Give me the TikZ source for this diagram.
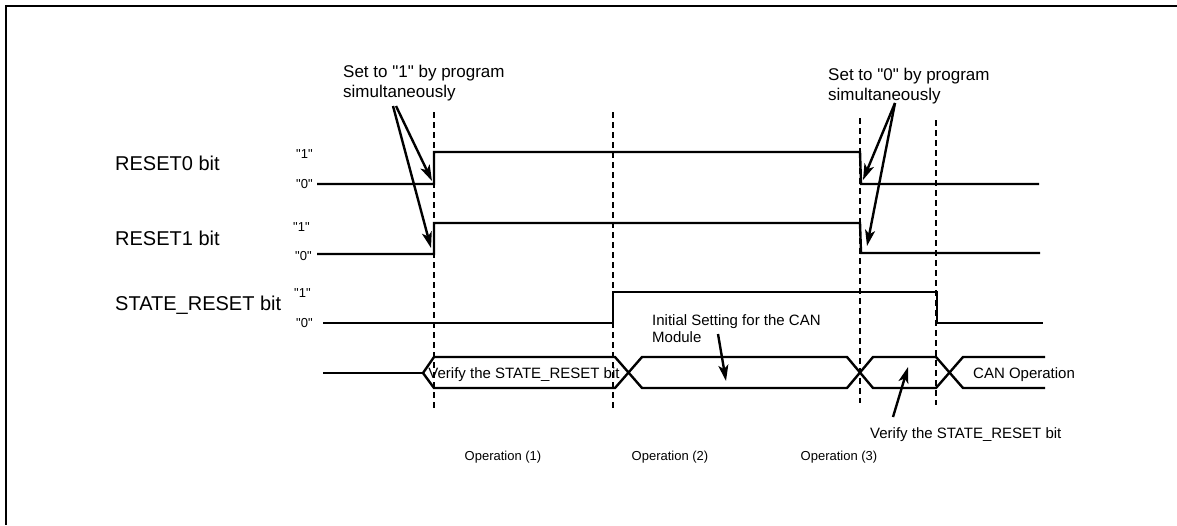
\documentclass[tikz,border=0pt]{standalone}
\usepackage{fontspec}
\setmainfont{Liberation Sans}
\usetikzlibrary{arrows.meta}
\newcommand{\dq}{\textquotedbl}
\begin{document}
\begin{tikzpicture}[x=1pt,y=-1pt,
  sig/.style={line width=2.4pt, line join=miter},
  guide/.style={line width=2.4pt, dash pattern=on 6pt off 4pt},
  ann/.style={-{Stealth[length=16pt,width=10pt,inset=4pt]}, line width=2.4pt},
  frame/.style={line width=2.4pt},
  lbl/.style={font=\fontsize{20}{24}\selectfont, anchor=base west, inner sep=0pt},
  lvl/.style={font=\fontsize{13}{15}\selectfont, anchor=base west, inner sep=0pt},
  note/.style={font=\fontsize{17}{20}\selectfont, anchor=base west, inner sep=0pt, align=left},
  txt/.style={font=\fontsize{15}{16.5}\selectfont, inner sep=0pt},
  op/.style={font=\fontsize{13}{15}\selectfont, anchor=base, inner sep=0pt}]
\useasboundingbox (0,0) rectangle (1177,525);
% frame (top and left edges visible)
\draw[frame] (1177,6) -- (6,6) -- (6,525);

% signal names
\node[lbl] (n0) at (115,170) {RESET0 bit};
\node[lbl] (n1) at (115,245) {RESET1 bit};
\node[lbl] (n2) at (115,310) {STATE\_RESET bit};

% level labels
\node[lvl] (h0) at (296,158) {\dq1\dq};
\node[lvl] (l0) at (296,188) {\dq0\dq};
\node[lvl] (h1) at (293,231) {\dq1\dq};
\node[lvl] (l1) at (295,260) {\dq0\dq};
\node[lvl] (h2) at (294,297) {\dq1\dq};
\node[lvl] (l2) at (296,327) {\dq0\dq};

% guide lines
\draw[guide] (434,112) -- (434,409);
\draw[guide] (613,112) -- (613,408);
\draw[guide] (860,118) -- (860,403);
\draw[guide] (936,120) -- (936,405);

% waveforms
\draw[sig] (317,184) -- (434,184) -- (434,152) -- (860,152) -- (861,184) -- (1039,184);
\draw[sig] (317,254) -- (434,254) -- (434,223) -- (860,223) -- (861,253) -- (1040,253);
\draw[sig] (323,323) -- (613,323) -- (613,292) -- (937,292) -- (937,323) -- (1043,323);

% bus
\draw[sig] (323,373) -- (423,373);
\draw[sig] (423,373) -- (434,357) -- (615,357) -- (642,388) -- (847,388) -- (873,357) -- (936,357) -- (963,388) -- (1045,388);
\draw[sig] (423,373) -- (434,388) -- (615,388) -- (642,357) -- (847,357) -- (873,388) -- (936,388) -- (963,357) -- (1045,357);

\node[txt, anchor=base] (b1) at (524,378) {Verify the STATE\_RESET bit};
\node[txt, anchor=base west] (b4) at (973,378) {CAN Operation};

% annotations (base anchor = last line baseline)
\node[note] (set1) at (343,97) {Set to \dq1\dq{} by program\\simultaneously};
\node[note] (set0) at (828,100) {Set to \dq0\dq{} by program\\simultaneously};
\node[txt, anchor=base west, align=left] (init) at (652,342) {Initial Setting for the CAN\\Module};
\node[txt, anchor=base west] (ver) at (870,438) {Verify the STATE\_RESET bit};

\coordinate (a1s) at (396,106);
\coordinate (a1e) at (432,181);
\coordinate (a2s) at (393,106);
\coordinate (a2e) at (431,248);
\coordinate (a3s) at (895,103);
\coordinate (a3e) at (863,180);
\coordinate (a4s) at (895,103);
\coordinate (a4e) at (867,246);
\coordinate (a5s) at (718,334);
\coordinate (a5e) at (726,381);
\coordinate (a6s) at (893,417);
\coordinate (a6e) at (908,367);

\draw[ann] (a1s) -- (a1e);
\draw[ann] (a2s) -- (a2e);
\draw[ann] (a3s) -- (a3e);
\draw[ann] (a4s) -- (a4e);
\draw[ann] (a5s) -- (a5e);
\draw[ann] (a6s) -- (a6e);

% operation labels
\node[op] (op1) at (503,460) {Operation (1)};
\node[op] (op2) at (670,460) {Operation (2)};
\node[op] (op3) at (839,460) {Operation (3)};
\end{tikzpicture}
\end{document}
